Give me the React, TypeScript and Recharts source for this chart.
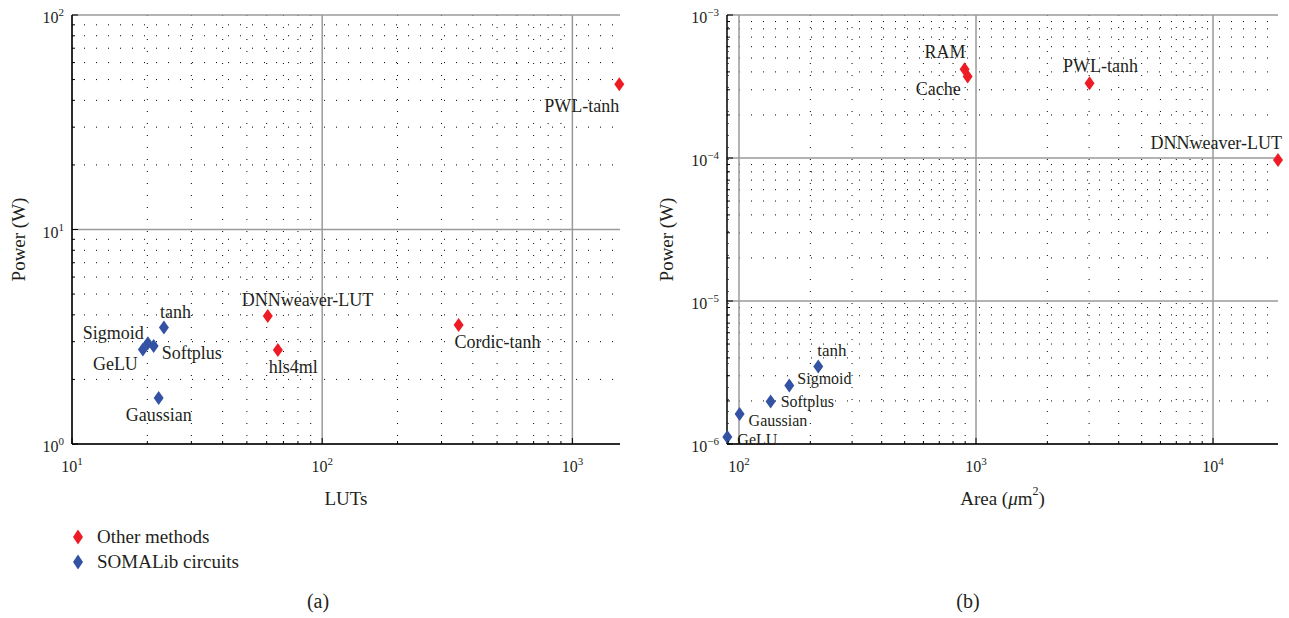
import React from "react";
import { ScatterChart, Scatter, XAxis, YAxis, CartesianGrid, Label } from "recharts";

const RED = "#ed1c24";
const BLUE = "#3352a3";
const INK = "#231f20";
const FONT = "'Liberation Serif', 'Times New Roman', 'DejaVu Serif', serif";

// (a) LUTs vs power
const somaNamesA = ["tanh", "Sigmoid", "Softplus", "GeLU", "Gaussian"];
const somaLuts = [23.3, 20.1, 21.2, 19.2, 22.2];
const somaPowerA = [3.49, 2.95, 2.86, 2.76, 1.64];
const otherNamesA = ["DNNweaver-LUT", "hls4ml", "Cordic-tanh", "PWL-tanh"];
const otherLuts = [60.6, 66.5, 351, 1540];
const otherPowerA = [3.95, 2.74, 3.59, 47.5];

// (b) area vs power
const somaNamesB = ["tanh", "Sigmoid", "Softplus", "Gaussian", "GeLU"];
const somaArea = [216, 163, 136, 100.6, 89.3];
const somaPowerB = [3.48e-6, 2.56e-6, 1.98e-6, 1.62e-6, 1.12e-6];
const otherNamesB = ["RAM", "Cache", "PWL-tanh", "DNNweaver-LUT"];
const otherArea = [895, 922, 3013, 18800];
const otherPowerB = [4.17e-4, 3.71e-4, 3.33e-4, 9.7e-5];

// axis ticks (labels only on decades)
const lutTicks = [10, 20, 30, 40, 50, 60, 70, 80, 90, 100, 200, 300, 400, 500, 600, 700, 800, 900, 1000];
const powerTicksA = [1, 2, 3, 4, 5, 6, 7, 8, 9, 10, 20, 30, 40, 50, 60, 70, 80, 90, 100];
const areaTicks = [90, 100, 200, 300, 400, 500, 600, 700, 800, 900, 1000, 2000, 3000, 4000, 5000, 6000, 7000, 8000, 9000, 10000];
const powerTicksB = [
  1e-6, 2e-6, 3e-6, 4e-6, 5e-6, 6e-6, 7e-6, 8e-6, 9e-6,
  1e-5, 2e-5, 3e-5, 4e-5, 5e-5, 6e-5, 7e-5, 8e-5, 9e-5,
  1e-4, 2e-4, 3e-4, 4e-4, 5e-4, 6e-4, 7e-4, 8e-4, 9e-4, 1e-3,
];

// label placement: [dx, dy, anchor, fontSize]
type Place = [number, number, "start" | "middle" | "end", number];
const placeA: Record<string, Place> = {
  tanh: [-4, -16, "start", 18],
  Sigmoid: [-4, -10, "end", 18],
  Softplus: [8, 7, "start", 18],
  GeLU: [-5, 15, "end", 18],
  Gaussian: [0, 17, "middle", 18],
  "DNNweaver-LUT": [-26, -16, "start", 18],
  hls4ml: [-9, 17, "start", 18],
  "Cordic-tanh": [-4, 17, "start", 18],
  "PWL-tanh": [0, 22, "end", 18],
};
const placeB: Record<string, Place> = {
  RAM: [1, -17, "end", 18],
  Cache: [-7, 12, "end", 18],
  "PWL-tanh": [11, -17, "middle", 18],
  "DNNweaver-LUT": [4, -17, "end", 18],
  tanh: [-1, -16, "start", 17],
  Sigmoid: [8, -7, "start", 16],
  Softplus: [10, 0, "start", 16],
  Gaussian: [9, 6, "start", 16],
  GeLU: [10, 3, "start", 16],
};

const zip = (names: string[], xs: number[], ys: number[]) =>
  names.map((name, i) => ({ name, x: xs[i], y: ys[i] }));

const isMajor = (v: number) => Math.abs(Math.log10(v) - Math.round(Math.log10(v))) < 1e-9;
const expOf = (v: number) => {
  const e = Math.round(Math.log10(v));
  return e < 0 ? "\u2212" + Math.abs(e) : String(e);
};

const diamond = (color: string, place: Record<string, Place>) => (props: any) => {
  const { cx, cy, payload } = props;
  const p = place[payload.name];
  return (
    <g>
      <path d={`M${cx},${cy - 7}L${cx + 5},${cy}L${cx},${cy + 7}L${cx - 5},${cy}Z`} fill={color} />
      <text x={cx + p[0]} y={cy + p[1]} textAnchor={p[2]} dominantBaseline="central" fontSize={p[3]} fill={INK} fontFamily={FONT}>
        {payload.name}
      </text>
    </g>
  );
};

const YTick = (props: any) => {
  const { x, y, payload } = props;
  const v = payload.value;
  const major = isMajor(v);
  return (
    <g>
      <line x1={x} x2={x + (major ? 6 : 3)} y1={y} y2={y} stroke="#000" />
      {major && (
        <text x={x - 8} y={y + 8} textAnchor="end" fontSize={16} fill={INK} fontFamily={FONT}>
          10<tspan dy={-7} fontSize={11}>{expOf(v)}</tspan>
        </text>
      )}
    </g>
  );
};

const XTick = (props: any) => {
  const { x, y, payload } = props;
  const v = payload.value;
  const major = isMajor(v);
  return (
    <g>
      <line x1={x} x2={x} y1={y} y2={y - (major ? 6 : 3)} stroke="#000" />
      {major && (
        <text x={x} y={y + 28} textAnchor="middle" fontSize={16} fill={INK} fontFamily={FONT}>
          10<tspan dy={-7} fontSize={11}>{expOf(v)}</tspan>
        </text>
      )}
    </g>
  );
};

const yTitle = (cx: number) => (props: any) => {
  const { viewBox } = props;
  const cy = viewBox.y + viewBox.height / 2 + 10;
  return (
    <text x={cx} y={cy} transform={`rotate(-90 ${cx} ${cy})`} textAnchor="middle" dominantBaseline="central" fontSize={19} fill={INK} fontFamily={FONT}>
      Power (W)
    </text>
  );
};

const xTitle = (content: React.ReactNode) => (props: any) => {
  const { viewBox } = props;
  return (
    <text x={viewBox.x + viewBox.width / 2} y={viewBox.y + 54} textAnchor="middle" dominantBaseline="central" fontSize={19} fill={INK} fontFamily={FONT}>
      {content}
    </text>
  );
};

interface PanelProps {
  width: number;
  rightMargin: number;
  yAxisWidth: number;
  xTicks: number[];
  yTicks: number[];
  xDomain: [number, number];
  yDomain: [number, number];
  soma: { name: string; x: number; y: number }[];
  other: { name: string; x: number; y: number }[];
  place: Record<string, Place>;
  xLabel: React.ReactNode;
  yTitleX: number;
}

const Panel: React.FC<PanelProps> = (p) => {
  const minorX = p.xTicks.filter((v) => !isMajor(v));
  const majorX = p.xTicks.filter(isMajor);
  const minorY = p.yTicks.filter((v) => !isMajor(v));
  const majorY = p.yTicks.filter(isMajor);
  return (
    <ScatterChart width={p.width} height={520} margin={{ top: 15, right: p.rightMargin, bottom: 0, left: 0 }}>
      <CartesianGrid horizontalValues={minorY} verticalValues={minorX} syncWithTicks stroke="#000" strokeDasharray="1 11" />
      <CartesianGrid horizontalValues={majorY} verticalValues={majorX} syncWithTicks stroke="#9a9a9a" strokeWidth={1.5} />
      <XAxis
        type="number"
        dataKey="x"
        scale="log"
        domain={p.xDomain}
        ticks={p.xTicks}
        interval={0}
        height={76}
        tickSize={0}
        tickMargin={0}
        tickLine={false}
        tick={<XTick />}
        axisLine={{ stroke: "#000", strokeWidth: 1.5 }}
      >
        <Label content={xTitle(p.xLabel)} />
      </XAxis>
      <YAxis
        type="number"
        dataKey="y"
        scale="log"
        domain={p.yDomain}
        ticks={p.yTicks}
        interval={0}
        width={p.yAxisWidth}
        tickSize={0}
        tickMargin={0}
        tickLine={false}
        tick={<YTick />}
        axisLine={{ stroke: "#000", strokeWidth: 1.5 }}
      >
        <Label content={yTitle(p.yTitleX)} />
      </YAxis>
      <Scatter name="Other methods" data={p.other} fill={RED} shape={diamond(RED, p.place)} isAnimationActive={false} />
      <Scatter name="SOMALib circuits" data={p.soma} fill={BLUE} shape={diamond(BLUE, p.place)} isAnimationActive={false} />
    </ScatterChart>
  );
};

const LegendDiamond = ({ color }: { color: string }) => (
  <svg width={12} height={16} style={{ display: "block" }}>
    <path d="M6,0.5L11,8L6,15.5L1,8Z" fill={color} />
  </svg>
);

export default function App() {
  return (
    <div style={{ position: "absolute", left: 0, top: 0, width: 1289, height: 618, background: "#fff", fontFamily: FONT, color: INK }}>
      <div style={{ position: "absolute", left: 0, top: 0 }}>
        <Panel
          width={640}
          rightMargin={20}
          yAxisWidth={72}
          xTicks={lutTicks}
          yTicks={powerTicksA}
          xDomain={[10, 1550]}
          yDomain={[1, 100]}
          soma={zip(somaNamesA, somaLuts, somaPowerA)}
          other={zip(otherNamesA, otherLuts, otherPowerA)}
          place={placeA}
          xLabel="LUTs"
          yTitleX={18}
        />
      </div>
      <div style={{ position: "absolute", left: 640, top: 0 }}>
        <Panel
          width={650}
          rightMargin={12}
          yAxisWidth={87}
          xTicks={areaTicks}
          yTicks={powerTicksB}
          xDomain={[89, 18800]}
          yDomain={[1e-6, 1e-3]}
          soma={zip(somaNamesB, somaArea, somaPowerB)}
          other={zip(otherNamesB, otherArea, otherPowerB)}
          place={placeB}
          xLabel={
            <>
              Area (<tspan fontStyle="italic">μ</tspan>m<tspan dy={-7} fontSize={12}>2</tspan>
              <tspan dy={7}>)</tspan>
            </>
          }
          yTitleX={26}
        />
      </div>
      {[
        { color: RED, label: "Other methods", top: 529 },
        { color: BLUE, label: "SOMALib circuits", top: 554 },
      ].map((it) => (
        <div key={it.label} style={{ position: "absolute", left: 72, top: it.top, display: "flex", alignItems: "center", fontSize: 19, lineHeight: "16px" }}>
          <LegendDiamond color={it.color} />
          <span style={{ marginLeft: 13 }}>{it.label}</span>
        </div>
      ))}
      <div style={{ position: "absolute", left: 298, width: 40, top: 590, textAlign: "center", fontSize: 20 }}>(a)</div>
      <div style={{ position: "absolute", left: 948, width: 40, top: 590, textAlign: "center", fontSize: 20 }}>(b)</div>
    </div>
  );
}
